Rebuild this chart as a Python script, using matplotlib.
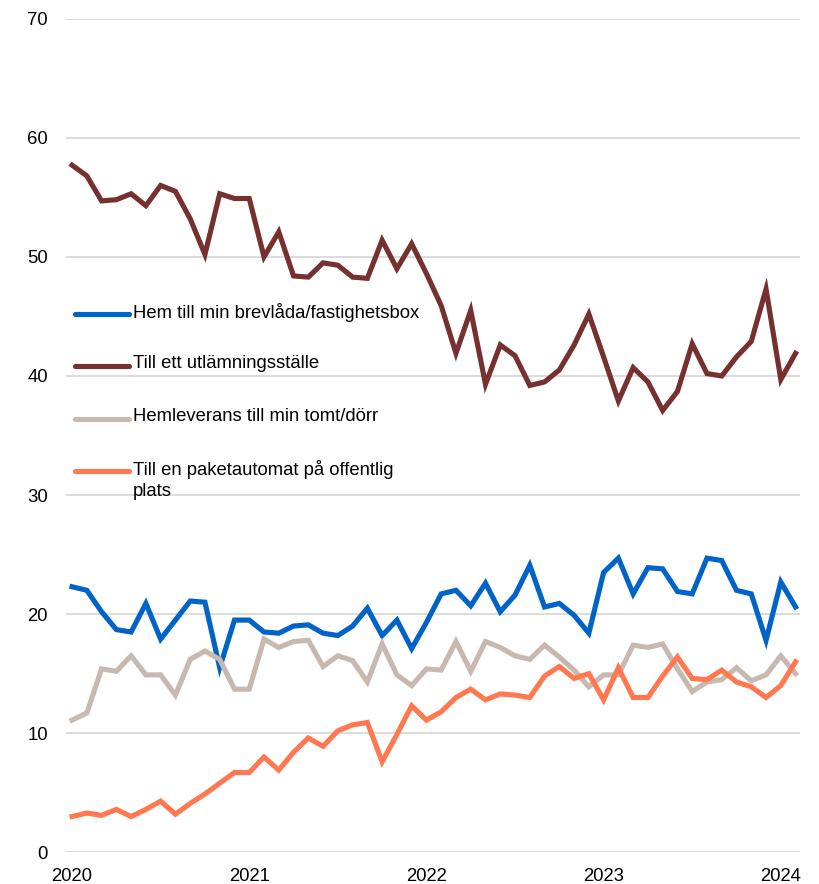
import numpy as np
import matplotlib
matplotlib.use('Agg')
import matplotlib.pyplot as plt

plt.rcParams['font.family'] = ['Liberation Sans', 'DejaVu Sans']

# monthly values, Jan 2020 - Feb 2024
brevlada = [22.3, 22.0, 20.2, 18.7, 18.5, 20.9, 17.9, 19.5, 21.1, 21.0,
            15.5, 19.5, 19.5, 18.5, 18.4, 19.0, 19.1, 18.4, 18.2, 19.0,
            20.5, 18.2, 19.5, 17.1, 19.3, 21.7, 22.0, 20.7, 22.6, 20.2,
            21.6, 24.1, 20.6, 20.9, 19.9, 18.4, 23.5, 24.7, 21.7, 23.9,
            23.8, 21.9, 21.7, 24.7, 24.5, 22.0, 21.7, 17.8, 22.7, 20.6]
utlamning = [57.7, 56.8, 54.7, 54.8, 55.3, 54.3, 56.0, 55.5, 53.2, 50.2,
             55.3, 54.9, 54.9, 50.0, 52.1, 48.4, 48.3, 49.5, 49.3, 48.3,
             48.2, 51.4, 49.0, 51.1, 48.6, 45.9, 41.9, 45.5, 39.3, 42.6,
             41.7, 39.2, 39.5, 40.5, 42.6, 45.2, 41.6, 37.9, 40.7, 39.5,
             37.1, 38.7, 42.7, 40.2, 40.0, 41.6, 42.9, 47.3, 39.7, 41.9]
hemleverans = [11.1, 11.7, 15.4, 15.2, 16.5, 14.9, 14.9, 13.2, 16.2, 16.9,
               16.2, 13.7, 13.7, 17.9, 17.2, 17.7, 17.8, 15.6, 16.5, 16.1,
               14.3, 17.5, 14.9, 14.0, 15.4, 15.3, 17.7, 15.2, 17.7, 17.2,
               16.5, 16.2, 17.4, 16.4, 15.3, 13.9, 14.9, 14.9, 17.4, 17.2,
               17.5, 15.4, 13.5, 14.3, 14.5, 15.5, 14.4, 14.9, 16.5, 15.0]
paketautomat = [3.0, 3.3, 3.1, 3.6, 3.0, 3.6, 4.3, 3.2, 4.1, 4.9,
                5.8, 6.7, 6.7, 8.0, 6.9, 8.4, 9.6, 8.9, 10.2, 10.7,
                10.9, 7.6, 9.9, 12.3, 11.1, 11.8, 13.0, 13.7, 12.8, 13.3,
                13.2, 13.0, 14.8, 15.6, 14.6, 15.0, 12.8, 15.5, 13.0, 13.0,
                14.8, 16.4, 14.6, 14.5, 15.3, 14.3, 13.9, 13.0, 14.0, 16.0]

series = [
    ("Hem till min brevlåda/fastighetsbox", brevlada, "#0063C8"),
    ("Till ett utlämningsställe", utlamning, "#75302F"),
    ("Hemleverans till min tomt/dörr", hemleverans, "#C8B9B0"),
    ("Till en paketautomat på offentlig\nplats", paketautomat, "#FF7850"),
]
years = ["2020", "2021", "2022", "2023", "2024"]
fs = 13.3

fig = plt.figure(figsize=(8.2, 8.84), dpi=100)
ax = fig.add_axes([66/820, 1 - 852.3/884, (800-66)/820, (852.3-18.7)/884])

x = np.arange(len(brevlada))
for name, vals, col in series:
    ax.plot(x, vals, color=col, lw=3.7, solid_joinstyle='miter', zorder=3)

ax.set_xlim(-0.41, 49.3)
ax.set_ylim(0, 70)
ax.set_yticks(range(0, 71, 10))
ax.set_xticks(np.arange(len(years)) * 12)
ax.set_xticklabels(years)
ax.grid(axis='y', color='#D9D9D9', lw=1.3, zorder=0)
for s in ax.spines.values():
    s.set_visible(False)
ax.tick_params(axis='both', length=0, labelsize=fs, colors='black')
ax.tick_params(axis='y', pad=13)
ax.tick_params(axis='x', pad=11)

# legend drawn by hand so the wrapped label keeps its handle on the first line
trans = fig.transFigure
for i, (name, vals, col) in enumerate(series):
    yp = 1 - (314 + i * 52.4) / 884
    fig.add_artist(plt.Line2D([75/820, 129/820], [yp, yp], transform=trans,
                              color=col, lw=3.7, solid_capstyle='round'))
    fig.text(133/820, yp + 11/884, name, transform=trans, va='top', ha='left',
             fontsize=fs, linespacing=1.32)

fig.savefig('out.png', dpi=100)
